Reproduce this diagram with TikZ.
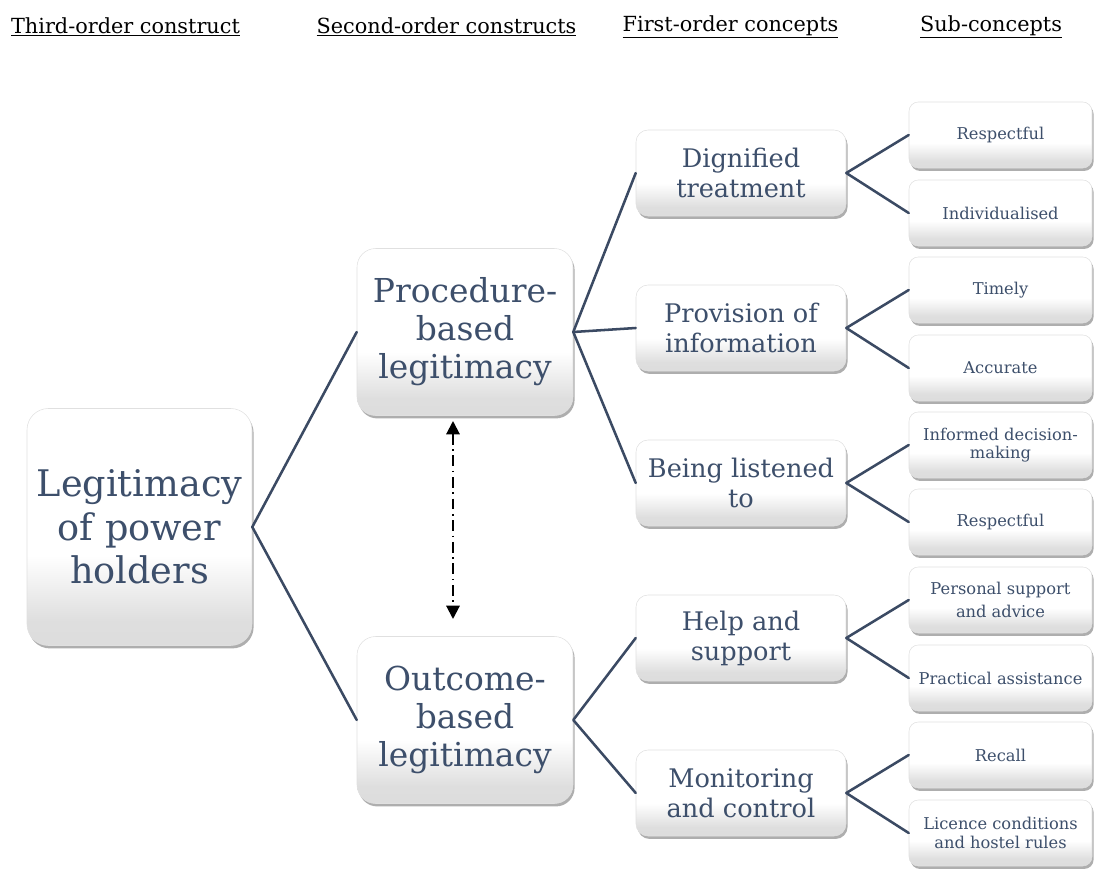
\documentclass[tikz,border=0pt]{standalone}
\usepackage{fontspec}
\setmainfont{DejaVu Serif}
\usepackage{tikz}
\usetikzlibrary{arrows.meta,shadows}
\definecolor{slatetxt}{rgb}{0.24,0.31,0.42}
\definecolor{slateln}{rgb}{0.23,0.29,0.39}
\pgfdeclareverticalshading{boxshade}{100bp}{color(0bp)=(black!15); color(30bp)=(black!13);
  color(44bp)=(white); color(100bp)=(white)}
\tikzset{
  box/.style={draw=black!12,line width=0.4pt,rounded corners=9pt,shading=boxshade,
    drop shadow={shadow xshift=1.2pt,shadow yshift=-2.2pt,opacity=0.45,fill=black!70},
    text=slatetxt,align=center,inner sep=2pt},
  rootbox/.style={box,minimum width=168.75pt,minimum height=177.75pt,rounded corners=16pt,
    font=\fontsize{27.5}{32.5}\selectfont},
  secbox/.style={box,minimum width=162pt,minimum height=125.25pt,rounded corners=14pt,
    font=\fontsize{24.7}{28.5}\selectfont},
  firstbox/.style={box,minimum width=157.5pt,minimum height=64.5pt,
    font=\fontsize{19.2}{22.5}\selectfont},
  subbox/.style={box,minimum width=137.25pt,minimum height=49.5pt,rounded corners=7pt,
    font=\fontsize{12.2}{14}\selectfont},
  head/.style={font=\fontsize{15.6}{18}\selectfont,text=black,inner sep=0pt},
  link/.style={draw=slateln,line width=1.9pt}
}
\begin{document}
\begin{tikzpicture}[line cap=round,line join=round,x=0.75pt,y=-0.75pt]
\useasboundingbox (0,0) rectangle (1097,878);
% headers
\node[head] (h3) at (125.5,27) {\underline{Third-order construct}};
\node[head] (h2) at (446.5,27) {\underline{Second-order constructs}};
\node[head] (h1) at (730.5,27) {\underline{First-order concepts}};
\node[head] (hs) at (991,27) {\underline{Sub-concepts}};
% third order
\node[rootbox] (legit) at (139.5,527) {Legitimacy\\of power\\holders};
% second order
\node[secbox] (proc) at (465,332) {Procedure-\\based\\legitimacy};
\node[secbox] (outc) at (465,720) {Outcome-\\based\\legitimacy};
% first order
\node[firstbox] (dign) at (741,173) {Dignified\\treatment};
\node[firstbox] (prov) at (741,328) {Provision of\\information};
\node[firstbox] (list) at (741,483) {Being listened\\to};
\node[firstbox] (help) at (741,638) {Help and\\support};
\node[firstbox] (moni) at (741,793) {Monitoring\\and control};
% sub-concepts
\node[subbox] (resp) at (1000.5,135) {Respectful};
\node[subbox] (indi) at (1000.5,213) {Individualised};
\node[subbox] (time) at (1000.5,290) {Timely};
\node[subbox] (accu) at (1000.5,368) {Accurate};
\node[subbox] (info) at (1000.5,445) {Informed decision-\\making};
\node[subbox] (resq) at (1000.5,522) {Respectful};
\node[subbox] (pers) at (1000.5,600) {Personal support\\[3pt]and advice};
\node[subbox] (prac) at (1000.5,678) {Practical assistance};
\node[subbox] (reca) at (1000.5,755) {Recall};
\node[subbox] (lice) at (1000.5,833) {Licence conditions\\and hostel rules};
% connectors
\draw[link] (proc.west) -- (legit.east) -- (outc.west);
\draw[link] (dign.west) -- (proc.east) -- (list.west);
\draw[link] (proc.east) -- (prov.west);
\draw[link] (help.west) -- (outc.east) -- (moni.west);
\draw[link] (resp.west) -- (dign.east) -- (indi.west);
\draw[link] (time.west) -- (prov.east) -- (accu.west);
\draw[link] (info.west) -- (list.east) -- (resq.west);
\draw[link] (pers.west) -- (help.east) -- (prac.west);
\draw[link] (reca.west) -- (moni.east) -- (lice.west);
% two-way arrow
\coordinate (atop) at (453,421);
\coordinate (abot) at (453,619);
\draw[line width=1.5pt,dash pattern=on 8pt off 3.5pt on 1.2pt off 3.5pt,line cap=butt,
  {Triangle[width=10pt,length=10pt]}-{Triangle[width=10pt,length=10pt]}] (atop) -- (abot);
\end{tikzpicture}
\end{document}
